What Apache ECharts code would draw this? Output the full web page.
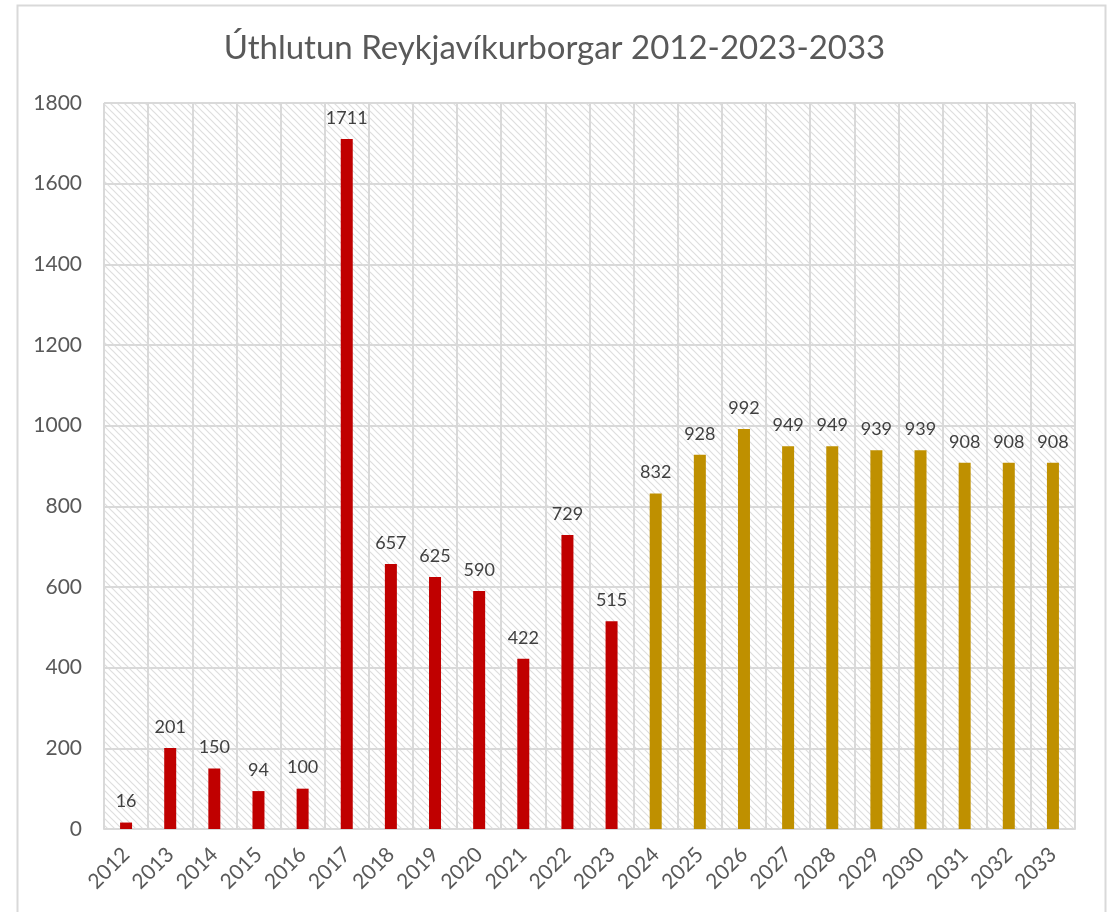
<!DOCTYPE html>
<html>
<head>
<meta charset="utf-8">
<script src="https://cdn.jsdelivr.net/npm/echarts@6/dist/echarts.min.js"></script>
<style>
  html, body { margin: 0; padding: 0; background: #fff; }
  #chart { width: 1109px; height: 912px; }
</style>
</head>
<body>
<div id="chart"></div>
<script>
// data
var years = ["2012", "2013", "2014", "2015", "2016", "2017", "2018", "2019", "2020", "2021", "2022",
  "2023", "2024", "2025", "2026", "2027", "2028", "2029", "2030", "2031", "2032", "2033"];
var pastValues = [16, 201, 150, 94, 100, 1711, 657, 625, 590, 422, 729, 515];
var plannedValues = [832, 928, 992, 949, 949, 939, 939, 908, 908, 908];
var yTicks = { min: 0, max: 1800, step: 200 };

// pad the two series so they share the category axis
var pastSeries = years.map(function (y, i) { return i < pastValues.length ? pastValues[i] : null; });
var plannedSeries = years.map(function (y, i) {
  var k = i - pastValues.length;
  return k >= 0 ? plannedValues[k] : null;
});

// diagonal hatch for the plot background
function hatch() {
  var c = document.createElement("canvas");
  c.width = 7;
  c.height = 7;
  var ctx = c.getContext("2d");
  ctx.strokeStyle = "#dedede";
  ctx.lineWidth = 1.2;
  ctx.beginPath();
  ctx.moveTo(-1, -1);
  ctx.lineTo(8, 8);
  ctx.moveTo(-8, -1);
  ctx.lineTo(1, 8);
  ctx.moveTo(6, -1);
  ctx.lineTo(15, 8);
  ctx.stroke();
  return c;
}

var myChart = echarts.init(document.getElementById("chart"));
var font = "Lato, 'Open Sans', sans-serif";

myChart.setOption({
  animation: false,
  textStyle: { fontFamily: font },
  title: {
    text: "Úthlutun Reykjavíkurborgar 2012-2023-2033",
    left: "center",
    top: 27,
    textStyle: { fontSize: 33, fontWeight: "normal", color: "#595959", fontFamily: font },
  },
  graphic: [
    {
      type: "rect",
      left: 15,
      top: 3,
      shape: { width: 1088, height: 940 },
      style: { fill: "none", stroke: "#d9d9d9", lineWidth: 2 },
      z: -10,
    },
  ],
  grid: {
    left: 104,
    right: 34,
    top: 103,
    bottom: 83,
    show: true,
    borderWidth: 0,
    backgroundColor: { image: hatch(), repeat: "repeat" },
  },
  xAxis: {
    type: "category",
    data: years,
    axisLine: { lineStyle: { color: "#d9d9d9", width: 2 } },
    axisTick: { show: false },
    splitLine: { show: true, lineStyle: { color: "#d9d9d9", width: 2 } },
    axisLabel: {
      rotate: 45,
      fontSize: 21,
      color: "#595959",
      margin: 22,
      interval: 0,
    },
  },
  yAxis: {
    type: "value",
    min: yTicks.min,
    max: yTicks.max,
    interval: yTicks.step,
    axisLine: { show: false },
    axisTick: { show: false },
    splitLine: { lineStyle: { color: "#d9d9d9", width: 2 } },
    axisLabel: {
      fontSize: 21,
      color: "#595959",
      margin: 22,
      formatter: function (v) { return String(v); },
    },
  },
  series: [
    {
      name: "2012-2023",
      type: "bar",
      data: pastSeries,
      barWidth: 12,
      barGap: "-100%",
      itemStyle: { color: "#c00000" },
      label: { show: true, position: "top", distance: 12, fontSize: 18, color: "#404040" },
    },
    {
      name: "2024-2033",
      type: "bar",
      data: plannedSeries,
      barWidth: 12,
      barGap: "-100%",
      itemStyle: { color: "#bf9000" },
      label: { show: true, position: "top", distance: 12, fontSize: 18, color: "#404040" },
    },
  ],
});
</script>
</body>
</html>
